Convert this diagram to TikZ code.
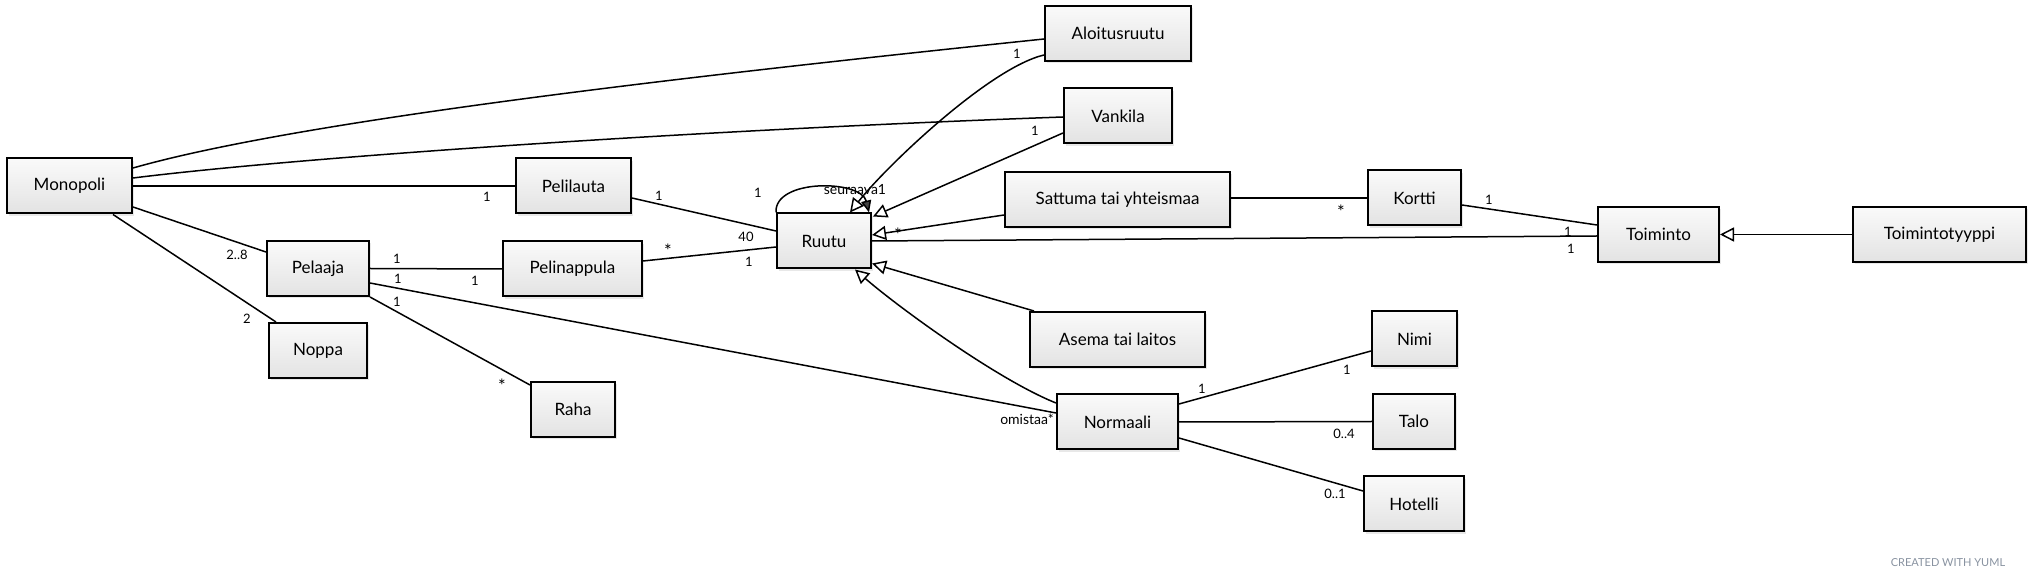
\documentclass[tikz,border=0pt]{standalone}
\usepackage{fontspec}
\setmainfont{Lato}
\usetikzlibrary{arrows.meta,calc,shadows}
\definecolor{creditgray}{RGB}{136,146,160}
\begin{document}
\begin{tikzpicture}[x=0.5pt,y=-0.5pt,
  cls/.style={draw=black, line width=1pt, top color=black!2, bottom color=black!11,
    drop shadow={shadow xshift=1.2pt,shadow yshift=-1.2pt,opacity=0.18},
    minimum height=27.5pt, inner sep=0pt, font=\fontsize{8.5}{10}\selectfont},
  conn/.style={line width=0.75pt},
  inh/.style={conn, -{Triangle[length=7pt,width=7pt,fill=white,line width=0.75pt]}},
  lbl/.style={font=\fontsize{6.5}{7}\selectfont, inner sep=0pt},
  starlbl/.style={font=\fontsize{9}{9}\selectfont, inner sep=0pt},
]
\useasboundingbox (0,0) rectangle (2031,582);

% classes
\node[cls, minimum width=62.5pt] (mono) at (69.5,186) {Monopoli};
\node[cls, minimum width=57.5pt] (lauta) at (573.5,186) {Pelilauta};
\node[cls, minimum width=51pt] (pelaaja) at (318,268.5) {Pelaaja};
\node[cls, minimum width=49pt] (noppa) at (318,350.5) {Noppa};
\node[cls, minimum width=69.5pt] (nappula) at (572.5,269) {Pelinappula};
\node[cls, minimum width=42pt] (raha) at (573,409.5) {Raha};
\node[cls, minimum width=47pt] (ruutu) at (824,241) {Ruutu};
\node[cls, minimum width=73pt] (alo) at (1118,33.5) {Aloitusruutu};
\node[cls, minimum width=54pt] (vank) at (1118,116) {Vankila};
\node[cls, minimum width=112.5pt] (satt) at (1117.5,199.5) {Sattuma tai yhteismaa};
\node[cls, minimum width=87.5pt] (asema) at (1117.5,339.5) {Asema tai laitos};
\node[cls, minimum width=60.5pt] (norm) at (1117.5,422) {Normaali};
\node[cls, minimum width=46.5pt] (kortti) at (1414.5,198) {Kortti};
\node[cls, minimum width=60.5pt] (toim) at (1658.5,234.5) {Toiminto};
\node[cls, minimum width=86.5pt] (tyyppi) at (1939.5,234.5) {Toimintotyyppi};
\node[cls, minimum width=42.5pt] (nimi) at (1414.5,339) {Nimi};
\node[cls, minimum width=41pt] (talo) at (1414,421.5) {Talo};
\node[cls, minimum width=50pt] (hot) at (1414,504) {Hotelli};

% associations
\draw[conn] ($(mono.east)+(0,-18)$) .. controls +(168,-48) and +(-345,36) .. ($(alo.west)+(0,5.5)$);
\draw[conn] ($(mono.east)+(0,-8)$) .. controls +(168,-21) and +(-364,13) .. ($(vank.west)+(0,1)$);
\draw[conn] (mono.east) -- (lauta.west);
\draw[conn] ($(mono.east)+(0,21)$) -- ($(pelaaja.west)+(0,-16.5)$);
\draw[conn] ($(mono.south)+(43.5,0)$) -- ($(noppa.north)+(-42,0)$);
\draw[conn] (pelaaja.east) -- (nappula.west);
\draw[conn] ($(pelaaja.east)+(0,14.5)$) -- ($(norm.west)+(0,-9)$);
\draw[conn] (pelaaja.south east) -- ($(raha.north west)+(0,4)$);
\draw[conn] ($(lauta.east)+(0,12)$) -- ($(ruutu.west)+(0,-10)$);
\draw[conn] ($(nappula.east)+(0,-8)$) -- ($(ruutu.west)+(0,6)$);
\draw[conn, -{Triangle[length=6pt,width=5pt,fill=black!75,line width=0.75pt]}]
  (ruutu.north west) .. controls +(-2,-34) and +(-8,-33) .. ($(ruutu.north east)+(-3,0)$);
\draw[conn] (ruutu.east) -- ($(toim.west)+(0,1.5)$);
\draw[conn] ($(satt.east)+(0,-1.5)$) -- (kortti.west);
\draw[conn] ($(kortti.east)+(0,7)$) -- ($(toim.west)+(0,-9.5)$);
\draw[conn] ($(norm.east)+(0,-18)$) -- ($(nimi.west)+(0,12)$);
\draw[conn] (norm.east) -- (talo.west);
\draw[conn] ($(norm.east)+(0,16)$) -- ($(hot.west)+(0,-13)$);

% inheritance
\draw[inh] ($(alo.west)+(0,21.5)$) .. controls +(-55,13) and +(35,-45) .. ($(ruutu.north)+(26,0)$);
\draw[inh] ($(vank.west)+(0,17)$) -- ($(ruutu.north east)+(1,4)$);
\draw[inh] ($(satt.west)+(0,15.5)$) -- ($(ruutu.east)+(0,-6)$);
\draw[inh] ($(asema.north west)+(5,0)$) -- ($(ruutu.south east)+(0,-6)$);
\draw[inh] ($(norm.west)+(0,-19)$) .. controls +(-60,-24) and +(40,35) .. ($(ruutu.south)+(31,0)$);
\draw[inh] (tyyppi.west) -- (toim.east);

% multiplicity labels
\node[lbl] (m1) at (487,197) {1};
\node[lbl] (m2) at (237,255) {2..8};
\node[lbl] (m3) at (247,319) {2};
\node[lbl] (m4) at (397,259) {1};
\node[lbl] (m5) at (398,279) {1};
\node[lbl] (m6) at (475,281) {1};
\node[lbl] (m7) at (397,302) {1};
\node[starlbl] (m8) at (502,386) {*};
\node[lbl] (m9) at (659,196) {1};
\node[lbl] (m10) at (746,237) {40};
\node[starlbl] (m11) at (668,251) {*};
\node[lbl] (m12) at (749,262) {1};
\node[lbl] (m13) at (758,193) {1};
\node[lbl, font=\fontsize{7}{7}\selectfont] (m14) at (855,190) {seuraava1};
\node[lbl] (m15) at (1017,54) {1};
\node[lbl] (m16) at (1035,131) {1};
\node[starlbl] (m17) at (898,235) {*};
\node[starlbl] (m18) at (1341,212) {*};
\node[lbl] (m19) at (1489,200) {1};
\node[lbl] (m20) at (1568,232) {1};
\node[lbl] (m21) at (1571,249) {1};
\node[lbl, font=\fontsize{7}{7}\selectfont] (m22) at (1027,419) {omistaa*};
\node[lbl] (m23) at (1202,389) {1};
\node[lbl] (m24) at (1347,370) {1};
\node[lbl] (m25) at (1344,434) {0..4};
\node[lbl] (m26) at (1335,494) {0..1};

\node[font=\fontsize{5.5}{6}\selectfont, text=creditgray, inner sep=0pt] (credit) at (1948,563) {CREATED WITH YUML};
\end{tikzpicture}
\end{document}
